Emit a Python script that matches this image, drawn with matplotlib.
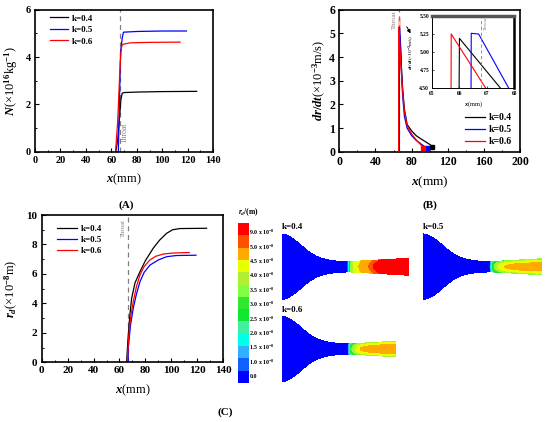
import numpy as np
import matplotlib
matplotlib.use("Agg")
import matplotlib.pyplot as plt
from matplotlib.colors import ListedColormap, BoundaryNorm
from matplotlib.patches import Rectangle

plt.rcParams['font.family'] = ['Liberation Serif', 'DejaVu Serif']
plt.rcParams['font.weight'] = 'bold'
plt.rcParams['mathtext.fontset'] = 'custom'
plt.rcParams['mathtext.rm'] = 'Liberation Serif:bold'
plt.rcParams['mathtext.it'] = 'Liberation Serif:italic:bold'
plt.rcParams['mathtext.bf'] = 'Liberation Serif:bold'
plt.rcParams['mathtext.default'] = 'rm'

labels = ['k=0.4', 'k=0.5', 'k=0.6']
colors = ['black', '#0000ff', '#ff0000']
throat_x = 66.5

# (A) droplet number N (x10^16 kg^-1)
xa_04 = [63.5, 65, 66.5, 67.5, 68.5, 70, 80, 100, 127]
Na_04 = [0, 0.5, 1.5, 2.2, 2.47, 2.5, 2.52, 2.54, 2.55]
xa_05 = [65.5, 66.5, 67.3, 67.8, 68.5, 69.5, 80, 100, 119]
Na_05 = [0, 2.5, 4.3, 4.4, 4.8, 5.05, 5.08, 5.1, 5.1]
xa_06 = [63.3, 65, 66.5, 67.5, 68.3, 70, 75, 90, 114]
Na_06 = [0, 1.3, 3.2, 4.2, 4.5, 4.55, 4.6, 4.62, 4.63]

# (B) growth rate dr/dt (x10^-3 m/s)
xb_04 = [65.9, 66.0, 67.5, 68.5, 70, 72, 75, 80, 85, 90, 95, 100, 103]
rb_04 = [0, 5.19, 4.5, 3.7, 2.7, 1.8, 1.15, 0.88, 0.68, 0.55, 0.43, 0.31, 0.22]
xb_05 = [66.38, 66.43, 66.7, 67.8, 69, 70, 72, 75, 80, 85, 90, 95, 97]
rb_05 = [0, 5.26, 5.25, 4.5, 3.2, 2.4, 1.5, 1.0, 0.68, 0.48, 0.34, 0.2, 0.14]
xb_06 = [65.66, 65.7, 66.96, 68, 70, 72, 75, 80, 85, 90, 93]
rb_06 = [0, 5.25, 4.5, 3.7, 2.6, 1.7, 1.1, 0.75, 0.5, 0.3, 0.15]

# (C) droplet radius r_d (x10^-8 m)
xc_04 = [65.5, 66.5, 68, 69.4, 72, 75.8, 80, 86, 91, 96.4, 101, 106.6, 127.2]
rc_04 = [0, 1.5, 3.2, 4.35, 5.4, 6.15, 6.9, 7.74, 8.3, 8.76, 9.0, 9.08, 9.1]
xc_05 = [66.7, 66.8, 68.5, 70.6, 73, 75.8, 79, 83.5, 90, 96.4, 104, 119]
rc_05 = [0, 1.0, 2.5, 3.66, 4.6, 5.47, 6.1, 6.6, 6.95, 7.17, 7.25, 7.27]
xc_06 = [66, 67, 68.5, 70.6, 73, 75.8, 79, 83.5, 88, 93.8, 101.5, 113.8]
rc_06 = [0, 1.6, 3.0, 4.1, 5.1, 5.93, 6.5, 6.95, 7.2, 7.35, 7.42, 7.45]

# nozzle wall (mm from inlet, half height)
noz_x = [0, 4, 8, 12, 16, 20, 25, 30, 35, 40, 47, 55, 67, 127]
noz_r = [33.3, 32.6, 30.8, 28.3, 25.2, 21.8, 17.5, 13.8, 11, 9, 7.3, 6.2, 5.6, 9.0]
wall_frac = [0.93, 0.55, 0.6]

cb_colors = ['#0000ff', '#1060ff', '#30b0ff', '#00ffe8', '#40f0a0', '#10e830',
             '#30e830', '#80ff40', '#b0f030', '#e8ff00', '#ffaa00', '#ff5000', '#ff0000']
cb_bounds = [0, 0.3, 0.8, 1.3, 1.8, 2.4, 3.0, 3.6, 4.2, 5.0, 6.3, 7.8, 8.3, 10]
cb_labels = ['0.0', '1.0 x 10$^{-8}$', '1.5 x 10$^{-8}$', '2.0 x 10$^{-8}$', '2.5 x 10$^{-8}$',
             '3.0 x 10$^{-8}$', '3.5 x 10$^{-8}$', '4.0 x 10$^{-8}$', '4.5 x 10$^{-8}$',
             '5.0 x 10$^{-8}$', '9.0 x 10$^{-8}$']


def style(ax, ls=7.5):
    for s in ax.spines.values():
        s.set_linewidth(1.2)
    ax.tick_params(which='both', direction='in', top=False, right=False,
                   labelsize=ls, pad=3)
    ax.tick_params(which='major', length=3, width=0.8)
    ax.tick_params(which='minor', length=1.5, width=0.7)
    for lbl in ax.get_xticklabels() + ax.get_yticklabels():
        lbl.set_fontweight('bold')


def throat(ax, tx, ty, va, ha, fs):
    ax.axvline(throat_x, color='gray', ls='--', lw=0.9, dashes=(4, 3), zorder=1)
    ax.text(tx, ty, 'Throat', rotation=90, color='gray', fontsize=fs,
            fontweight='normal', va=va, ha=ha)


fig = plt.figure(figsize=(5.5, 4.22), dpi=100)

# ---- (A)
axA = fig.add_axes([0.0636, 0.6405, 0.324, 0.3365])
for x, y, c, l in zip([xa_04, xa_05, xa_06], [Na_04, Na_05, Na_06], colors, labels):
    axA.plot(x, y, color=c, lw=0.9, label=l)
throat(axA, 70.5, 0.35, 'bottom', 'center', 5.5)
axA.set_xlim(0, 140)
axA.set_ylim(0, 6)
axA.set_xticks(np.arange(0, 141, 20))
axA.set_xticks(np.arange(0, 141, 10), minor=True)
axA.set_yticks([0, 2, 4, 6])
axA.set_yticks(np.arange(0, 6.1, 1), minor=True)
style(axA, 7.5)
axA.set_xlabel('$\\mathit{x}$(mm)', fontsize=9, labelpad=5)
axA.set_ylabel('$\\mathit{N}$(×10$^{16}$kg$^{-1}$)', fontsize=9, labelpad=4)
axA.legend(loc='upper left', bbox_to_anchor=(0.084, 0.968), frameon=False,
           fontsize=6.5, handlelength=2.0, borderpad=0, borderaxespad=0,
           labelspacing=0.35, handletextpad=0.4)

# ---- (B)
axB = fig.add_axes([0.617, 0.6405, 0.3285, 0.3365])
axB.add_patch(Rectangle((65, 4.5), 3.5, 1.15, facecolor='#ffb0b0', edgecolor='none',
                        alpha=0.8, zorder=1))
for x, y, c, l in zip([xb_04, xb_05, xb_06], [rb_04, rb_05, rb_06], colors, labels):
    axB.plot(x, y, color=c, lw=0.9, label=l, zorder=3)
    axB.plot(x[-1], y[-1], marker='s', ms=2.5, color=c, zorder=3)
throat(axB, 61.5, 5.97, 'top', 'center', 5)
axB.annotate('', xy=(80.5, 4.9), xytext=(73, 5.38),
             arrowprops=dict(arrowstyle='-|>', color='black', lw=0.7,
                             mutation_scale=5))
axB.set_xlim(0, 200)
axB.set_ylim(0, 6)
axB.set_xticks(np.arange(0, 201, 40))
axB.set_xticks(np.arange(0, 201, 20), minor=True)
axB.set_yticks(np.arange(0, 7, 1))
style(axB, 8.5)
axB.set_xlabel('$\\mathit{x}$(mm)', fontsize=9.5, labelpad=5)
axB.set_ylabel('$\\mathit{dr/dt}$(×10$^{-3}$m/s)', fontsize=9, labelpad=1)
axB.legend(loc='upper left', bbox_to_anchor=(0.696, 0.27), frameon=False,
           fontsize=7, handlelength=2.0, borderpad=0, borderaxespad=0,
           labelspacing=0.3, handletextpad=0.4)

# inset
axI = fig.add_axes([0.7855, 0.7908, 0.1496, 0.1714])
for x, y, c in zip([xb_04, xb_05, xb_06], [rb_04, rb_05, rb_06], colors):
    axI.plot(x, y, color=c, lw=0.8)
axI.axvline(66.8, color='gray', ls='--', lw=0.6, dashes=(4, 3))
axI.text(66.9, 5.48, 'Throat', rotation=90, color='gray', fontsize=3.5,
         fontweight='normal', va='top', ha='left')
axI.set_xlim(65, 68)
axI.set_ylim(4.5, 5.5)
axI.set_xticks([65, 66, 67, 68])
axI.set_yticks([4.5, 4.75, 5.0, 5.25, 5.5])
axI.set_yticklabels(['4.50', '4.75', '5.00', '5.25', '5.50'])
axI.tick_params(which='both', direction='in', labelsize=4, pad=2, length=1.5, width=0.5)
for lbl in axI.get_xticklabels() + axI.get_yticklabels():
    lbl.set_fontweight('bold')
for s in axI.spines.values():
    s.set_linewidth(0.7)
axI.spines['top'].set_linewidth(2.5)
axI.spines['top'].set_color('#555555')
axI.spines['right'].set_linewidth(1.8)
axI.set_xlabel('$\\mathit{x}$(mm)', fontsize=4.5, labelpad=2)
axI.set_ylabel('$\\mathit{dr/dt}$(×10$^{-3}$m/s)', fontsize=3.8, labelpad=2)

# ---- (C) line plot
axC = fig.add_axes([0.0758, 0.1415, 0.330, 0.349])
for x, y, c, l in zip([xc_04, xc_05, xc_06], [rc_04, rc_05, rc_06], colors, labels):
    axC.plot(x, y, color=c, lw=0.9, label=l)
throat(axC, 62.7, 9.75, 'top', 'center', 4.8)
axC.set_xlim(0, 140)
axC.set_ylim(0, 10)
axC.set_xticks(np.arange(0, 141, 20))
axC.set_xticks(np.arange(0, 141, 10), minor=True)
axC.set_yticks(np.arange(0, 11, 2))
axC.set_yticks(np.arange(0, 10.1, 1), minor=True)
style(axC, 8)
axC.set_xlabel('$\\mathit{x}$(mm)', fontsize=9, labelpad=5)
axC.set_ylabel('$\\mathit{r_d}$(×10$^{-8}$m)', fontsize=9, labelpad=5)
axC.legend(loc='upper left', bbox_to_anchor=(0.084, 0.935), frameon=False,
           fontsize=6.5, handlelength=2.2, borderpad=0, borderaxespad=0,
           labelspacing=0.3, handletextpad=0.4)

# ---- (C) colour bar
cmap = ListedColormap(cb_colors)
norm = BoundaryNorm(cb_bounds, cmap.N)
axCB = fig.add_axes([0.4327, 0.0924, 0.0182, 0.379])
axCB.imshow(np.arange(len(cb_colors)).reshape(-1, 1), cmap=cmap, origin='lower',
            aspect='auto', extent=(0, 1, 0, 1), vmin=-0.5, vmax=len(cb_colors) - 0.5)
axCB.set_axis_off()
for i, lab in enumerate(cb_labels):
    axCB.text(1.15, 0.04 + 0.09 * i, lab, transform=axCB.transAxes, fontsize=4.3,
              va='center', ha='left')
axCB.text(0.0, 1.03, '$\\mathit{r_d}$/(m)', transform=axCB.transAxes, fontsize=5.5,
          va='bottom', ha='left')

# ---- (C) contour maps
gx = np.linspace(0, 140, 561)
gy = np.linspace(-34, 34, 273)
GX, GY = np.meshgrid(gx, gy)
R = np.interp(GX, noz_x, noz_r)
nozzles = [(0.5122, 0.2874, xc_04, rc_04, 0, 'k=0.4'),
           (0.7696, 0.2874, xc_05, rc_05, 1, 'k=0.5'),
           (0.5122, 0.0924, xc_06, rc_06, 2, 'k=0.6')]
for left, bottom, xc, rc, i, lab in nozzles:
    ax = fig.add_axes([left, bottom, 0.2545, 0.1611])
    L = xc[-1]
    centre = np.interp(GX, xc, rc, left=0)
    s = np.clip(np.abs(GY) / R, 0, 1)
    field = centre * (1 - (1 - wall_frac[i]) * s ** 2)
    field = np.ma.masked_where((np.abs(GY) > R) | (GX > L), field)
    ax.pcolormesh(GX, GY, field, cmap=cmap, norm=norm, shading='auto')
    ax.set_xlim(0, 140)
    ax.set_ylim(-34, 34)
    ax.set_axis_off()
    ax.text(0.0, 1.02, lab, transform=ax.transAxes, fontsize=6.5, va='bottom', ha='left')

# panel letters
fig.text(126 / 550, 1 - 205 / 422, '(A)', fontsize=8, ha='center', va='center')
fig.text(430 / 550, 1 - 205 / 422, '(B)', fontsize=8, ha='center', va='center')
fig.text(225 / 550, 1 - 412 / 422, '(C)', fontsize=8, ha='center', va='center')

fig.savefig('out.png', dpi=100)
